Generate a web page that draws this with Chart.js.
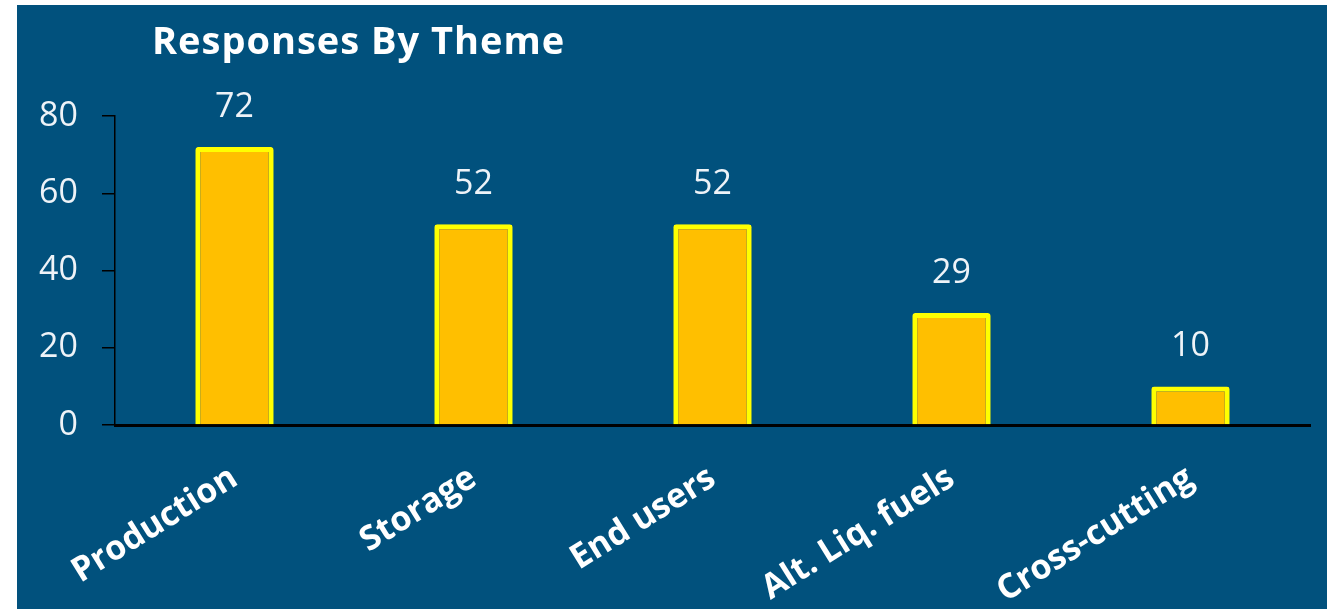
<!DOCTYPE html>
<html>
<head>
<meta charset="utf-8">
<script src="https://cdn.jsdelivr.net/npm/chart.js@4.4.1/dist/chart.umd.min.js"></script>
<style>
  html, body { margin:0; padding:0; background:#ffffff; }
  #wrap { position:absolute; left:0; top:0; width:1330px; height:609px; }
</style>
</head>
<body>
<div id="wrap"><canvas id="c" width="1330" height="609"></canvas></div>
<script>
const titleText = 'Responses By Theme';
const categories = ['Production', 'Storage', 'End users', 'Alt. Liq. fuels', 'Cross-cutting'];
const responses = [72, 52, 52, 29, 10];
const yTicks = [0, 20, 40, 60, 80];

const FONT = "'Open Sans', 'DejaVu Sans', sans-serif";
const BG = '#01517d';

const bgPlugin = {
  id: 'bg',
  beforeDraw(chart) {
    const ctx = chart.ctx;
    ctx.save();
    ctx.fillStyle = '#ffffff';
    ctx.fillRect(0, 0, chart.width, chart.height);
    ctx.fillStyle = BG;
    ctx.fillRect(17, 5, 1310, 604);
    ctx.restore();
  }
};

const titlePlugin = {
  id: 'customTitle',
  afterDraw(chart) {
    const ctx = chart.ctx;
    ctx.save();
    ctx.fillStyle = '#ffffff';
    ctx.font = "bold 38px " + FONT;
    try { ctx.letterSpacing = '1px'; } catch (e) {}
    ctx.textAlign = 'left';
    ctx.textBaseline = 'alphabetic';
    ctx.fillText(titleText, 152, 54);
    ctx.restore();
  }
};

const valueLabels = {
  id: 'valueLabels',
  afterDatasetsDraw(chart) {
    const ctx = chart.ctx;
    const meta = chart.getDatasetMeta(0);
    ctx.save();
    ctx.fillStyle = '#eef3f8';
    ctx.font = "34px " + FONT;
    ctx.textAlign = 'center';
    ctx.textBaseline = 'alphabetic';
    meta.data.forEach((bar, i) => {
      ctx.fillText(String(chart.data.datasets[0].data[i]), bar.x, bar.y - 30);
    });
    ctx.restore();
  }
};

const ctx = document.getElementById('c').getContext('2d');
const gradFill = (context) => {
  const el = context.element;
  const chart = context.chart;
  if (!el || el.x === undefined || !chart.chartArea) return '#ffbf00';
  const half = 39;
  const g = chart.ctx.createLinearGradient(el.x - half, 0, el.x + half, 0);
  g.addColorStop(0, '#e8b010');
  g.addColorStop(0.5, '#ffc000');
  g.addColorStop(1, '#e8b010');
  return g;
};

new Chart(ctx, {
  type: 'bar',
  data: {
    labels: categories,
    datasets: [{
      data: responses,
      backgroundColor: gradFill,
      borderColor: '#ffff00',
      borderWidth: 5,
      borderRadius: 3,
      borderSkipped: 'bottom',
      categoryPercentage: 1,
      barPercentage: 0.328
    }]
  },
  options: {
    responsive: false,
    animation: false,
    events: [],
    layout: { padding: { left: 17, right: 20, top: 116, bottom: 0 } },
    plugins: {
      legend: { display: false },
      title: { display: false },
      tooltip: { enabled: false }
    },
    scales: {
      x: {
        grid: { display: false },
        border: { display: true, color: '#000000', width: 3 },
        ticks: {
          color: '#ffffff',
          font: { family: FONT, size: 34, weight: 'bold' },
          maxRotation: 32,
          minRotation: 32,
          padding: 25,
          autoSkip: false
        },
        afterFit(scale) { scale.height = 184; }
      },
      y: {
        min: 0,
        max: 80,
        afterBuildTicks(scale) { scale.ticks = yTicks.map(v => ({ value: v })); },
        grid: {
          display: true,
          drawOnChartArea: false,
          drawTicks: true,
          tickLength: 13,
          color: '#000000',
          lineWidth: 1.5
        },
        border: { display: true, color: '#000000', width: 1.5 },
        ticks: {
          color: '#eef3f8',
          font: { family: FONT, size: 34 },
          padding: 24
        },
        afterFit(scale) { scale.width = 98; }
      }
    }
  },
  plugins: [bgPlugin, titlePlugin, valueLabels]
});
</script>
</body>
</html>
